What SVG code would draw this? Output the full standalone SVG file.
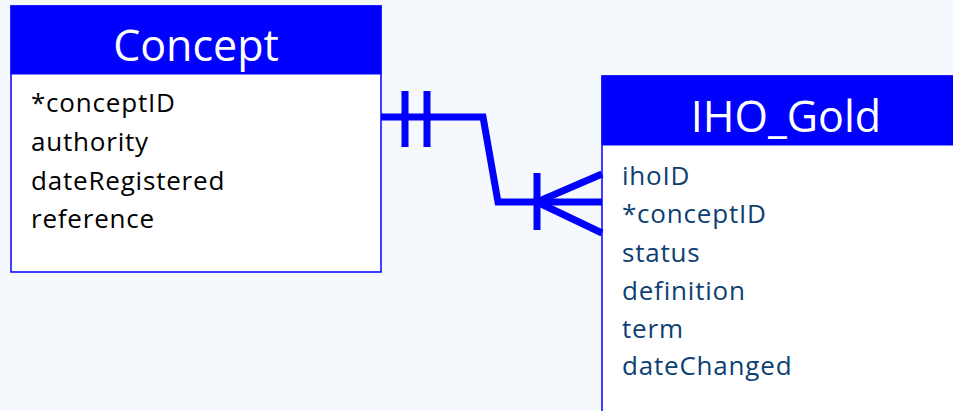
<svg xmlns="http://www.w3.org/2000/svg" width="953" height="411" viewBox="0 0 953 411">
<style>
.hdr{fill:#0000ff;stroke:#0000ff;stroke-width:1}
.body{fill:#ffffff;stroke:#0000ff;stroke-width:1.5}
.title{font-family:"Open Sans","Noto Sans",sans-serif;font-size:43px;fill:#ffffff;text-anchor:middle}
.attr{font-family:"Open Sans","Noto Sans",sans-serif;font-size:26px;letter-spacing:0.8px}
.c1{fill:#000000}
.c2{fill:#0d3f73}
.conn{fill:none;stroke:#0000ff;stroke-width:7;stroke-linejoin:miter}
</style>
<rect x="0" y="0" width="953" height="411" fill="#f5f8fc"/>
<g id="Concept">
<rect class="body" x="11" y="6" width="370" height="266"/>
<rect class="hdr" x="11" y="6" width="370" height="68"/>
<text class="title" x="196" y="61">Concept</text>
<text class="attr c1" x="31" y="112">*conceptID</text>
<text class="attr c1" x="31" y="151">authority</text>
<text class="attr c1" x="31" y="190">dateRegistered</text>
<text class="attr c1" x="31" y="228">reference</text>
</g>
<g id="IHO_Gold">
<rect class="body" x="602" y="76" width="360" height="345"/>
<rect class="hdr" x="602" y="76" width="360" height="69"/>
<text class="title" x="786" y="132">IHO_Gold</text>
<text class="attr c2" x="622" y="185">ihoID</text>
<text class="attr c2" x="622" y="223">*conceptID</text>
<text class="attr c2" x="622" y="262">status</text>
<text class="attr c2" x="622" y="300">definition</text>
<text class="attr c2" x="622" y="338">term</text>
<text class="attr c2" x="622" y="375">dateChanged</text>
</g>
<g id="connectors">
<polyline class="conn" points="381,117 483,117 498,202 602,202"/>
<line class="conn" x1="405" y1="91" x2="405" y2="147" stroke-width="9"/>
<line class="conn" x1="427" y1="91" x2="427" y2="147" stroke-width="9"/>
<line class="conn" x1="537" y1="173" x2="537" y2="230" stroke-width="9"/>
<line class="conn" x1="537" y1="202" x2="602" y2="174"/>
<line class="conn" x1="537" y1="202" x2="602" y2="233"/>
</g>
</svg>
